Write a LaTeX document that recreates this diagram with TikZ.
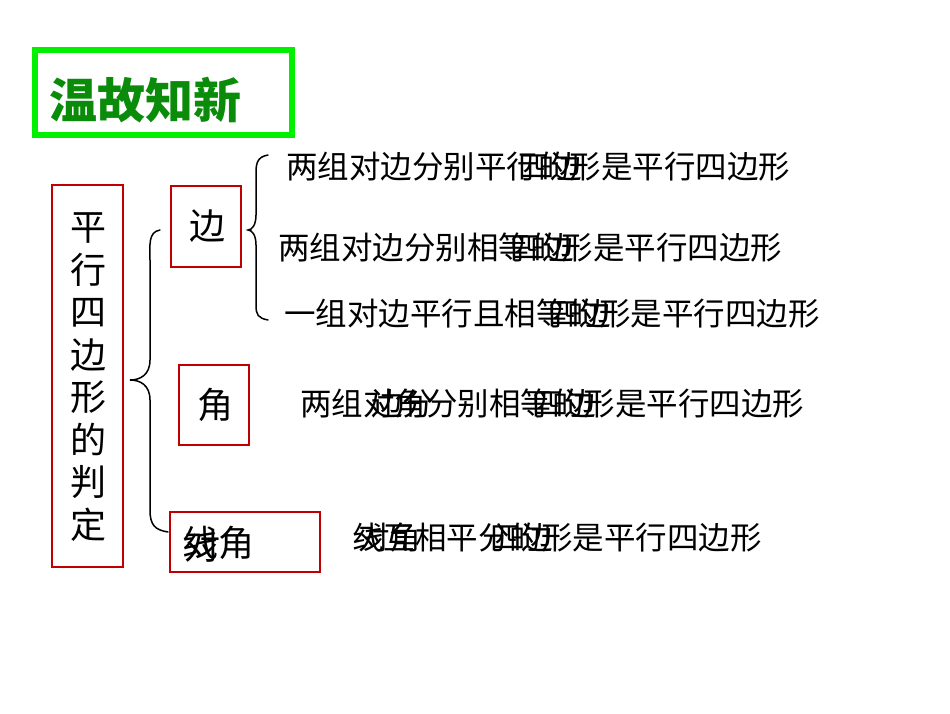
\documentclass[tikz,border=0pt]{standalone}
\usepackage{fontspec}
\newfontfamily\cjk{Noto Sans CJK SC}
\definecolor{boxred}{RGB}{192,0,0}
\definecolor{lime}{RGB}{0,240,0}
\definecolor{dgreen}{RGB}{10,140,10}
\begin{document}
\begin{tikzpicture}[x=1pt,y=-1pt,
  rbox/.style={draw=boxred,line width=1.8pt},
  txt/.style={font=\cjk\fontsize{31.5}{31.5}\selectfont,anchor=west,inner sep=0pt},
  br/.style={line width=1.5pt,line cap=round}]
\useasboundingbox (0,0) rectangle (950,713);
\draw[draw=lime,line width=6pt] (35,50) rectangle (292,135);
\node (title) at (145,100) {\cjk\fontsize{48}{48}\selectfont\bfseries\color{dgreen}温故知新};
\draw[rbox] (52,185) rectangle (123,567);
\node[align=center,font=\cjk\fontsize{36}{42.5}\selectfont,inner sep=0pt] (v) at (88,377) {平\\行\\四\\边\\形\\的\\判\\定};
\draw[br] (160,230) .. controls (148,232) and (150,245) .. (150,260) -- (150,360) .. controls (150,375) and (140,380) .. (130,380) .. controls (140,380) and (150,385) .. (150,400) -- (150,510) .. controls (150,525) and (155,530) .. (168,532);
\draw[rbox] (171,186) rectangle (241,267);
\node[font=\cjk\fontsize{36}{36}\selectfont] (b) at (207,226) {边};
\draw[rbox] (179,365) rectangle (249,445);
\node[font=\cjk\fontsize{36}{36}\selectfont] (j) at (215,405) {角};
\draw[rbox] (170,512) rectangle (320,572);
\node[font=\cjk\fontsize{36}{36}\selectfont,anchor=west,inner sep=0pt] (x) at (182,543) {线角};
\node[font=\cjk\fontsize{36}{36}\selectfont,anchor=west,inner sep=0pt] (x2) at (184,546) {对};
\draw[br] (268,155) .. controls (256,157) and (256,165) .. (256,175) -- (256,215) .. controls (256,225) and (252,230) .. (248,230) .. controls (252,230) and (256,235) .. (256,245) -- (256,305) .. controls (256,315) and (258,318) .. (268,320);
\node[txt] (l1) at (286,167) {两组对边分别平行的形是平行四边形};
\node[txt] (l1o) at (286+7*31.5+12,167) {四边};
\node[txt] (l2) at (278,248) {两组对边分别相等的形是平行四边形};
\node[txt] (l2o) at (278+7*31.5+12,248) {四边};
\node[txt] (l3) at (284,314) {一组对边平行且相等的形是平行四边形};
\node[txt] (l3o) at (284+8*31.5+12,314) {四边};
\node[txt] (l4) at (300,404) {两组对角分别相等的形是平行四边形};
\node[txt] (l4o) at (300+2*31.5+8,404) {边分};
\node[txt] (l4p) at (300+7*31.5+12,404) {四边};
\node[txt] (l5) at (352,538) {线互相平分的形是平行四边形};
\node[txt] (l5o) at (352+6,538) {对角};
\node[txt] (l5p) at (352+4*31.5+12,538) {四边};
\end{tikzpicture}
\end{document}
